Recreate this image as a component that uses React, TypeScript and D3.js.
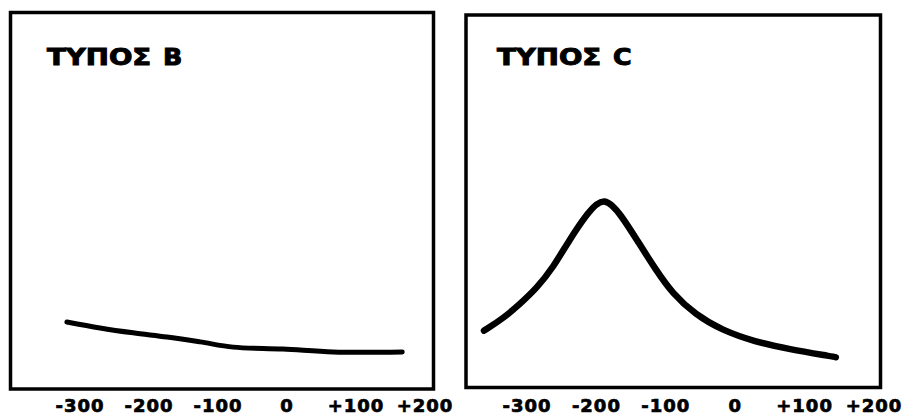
import React from "react";
import * as d3 from "d3";

const tickValues = [-300, -200, -100, 0, 100, 200];
const tickLabels = ["-300", "-200", "-100", "0", "+100", "+200"];

const typeBX = [-319, -271, -223, -174, -126, -78, -6, 67, 167];
const typeBY = [18.1, 16.5, 15.2, 14.1, 12.8, 11.4, 10.9, 10.1, 10.1];

const typeCX = [-362, -360, -334, -310, -286, -263, -239, -213, -189, -164, -139, -114, -91, -57, -20, 29, 76, 143, 145];
const typeCY = [15.8, 16.0, 19.1, 22.9, 27.1, 32.4, 39.9, 47.1, 51.8, 46.5, 39.1, 31.9, 25.8, 20.0, 16.0, 12.8, 10.9, 8.8, 8.7];

const titleWord = "ΤΥΠΟΣ";
const titleLetters = ["Β", "C"];

type Panel = {
  letter: string;
  xs: number[];
  ys: number[];
  box: [number, number, number, number];
  xRange: [number, number];
  titleX: number;
  strokeW: number;
  smooth: boolean;
};

const panels: Panel[] = [
  { letter: titleLetters[0], xs: typeBX, ys: typeBY, box: [10.5, 12.5, 433.5, 389], xRange: [80, 425], titleX: 47, strokeW: 5, smooth: false },
  { letter: titleLetters[1], xs: typeCX, ys: typeCY, box: [466, 15, 880.5, 387.5], xRange: [527, 874], titleX: 497, strokeW: 6.5, smooth: true },
];

const font = "'DejaVu Sans', sans-serif";

function PanelView({ p }: { p: Panel }) {
  const x = d3.scaleLinear().domain([-300, 200]).range(p.xRange);
  const y = d3.scaleLinear().domain([0, 100]).range([390, 14]);
  const data = p.xs.map((v, i) => [v, p.ys[i]] as [number, number]);
  const line = d3
    .line<[number, number]>()
    .x((d) => x(d[0]))
    .y((d) => y(d[1]))
    .curve(p.smooth ? d3.curveBasis : d3.curveCatmullRom.alpha(0.5));
  const [x0, y0, x1, y1] = p.box;
  const titleStyle = {
    fontFamily: font,
    fontWeight: "bold" as const,
    fontSize: 23,
    fill: "#000",
    stroke: "#000",
    strokeWidth: 1,
  };
  return (
    <g>
      <rect x={x0} y={y0} width={x1 - x0} height={y1 - y0} fill="#fff" stroke="#000" strokeWidth={3.5} />
      <text transform={`translate(${p.titleX},65) scale(1.2,1)`} {...titleStyle}>
        {titleWord}
      </text>
      <text transform={`translate(${p.titleX + 116},65) scale(1.1,1)`} {...titleStyle}>
        {p.letter}
      </text>
      <path d={line(data) || ""} fill="none" stroke="#000" strokeWidth={p.strokeW} strokeLinecap="round" strokeLinejoin="round" />
      {tickValues.map((t, i) => (
        <text
          key={t}
          x={x(t)}
          y={412}
          textAnchor="middle"
          fontFamily={font}
          fontWeight="bold"
          fontSize={18}
          letterSpacing={1}
          fill="#000"
          stroke="#000"
          strokeWidth={0.7}
        >
          {tickLabels[i]}
        </text>
      ))}
    </g>
  );
}

export default function App() {
  return (
    <svg width={903} height={416} style={{ position: "absolute", left: 0, top: 0, background: "#fff" }}>
      <rect x={0} y={0} width={903} height={416} fill="#fff" />
      {panels.map((p, i) => (
        <PanelView key={i} p={p} />
      ))}
    </svg>
  );
}
